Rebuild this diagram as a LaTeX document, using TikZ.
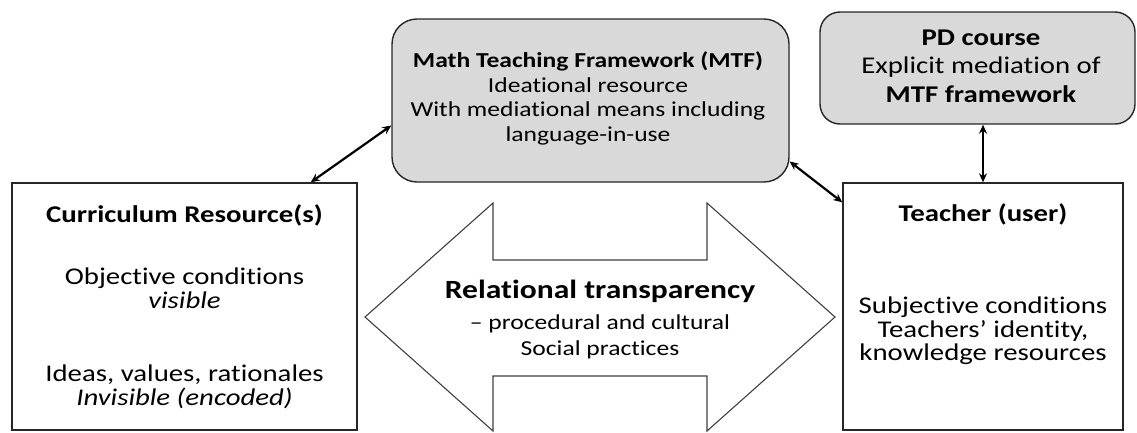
\documentclass[tikz,border=0pt]{standalone}
\usepackage{fontspec}
\setmainfont{Carlito}[FakeStretch=1.2, Ligatures={NoCommon}]
\usetikzlibrary{arrows.meta}
\begin{document}
\begin{tikzpicture}[x=1pt,y=-1pt]
\tikzset{
 plainbox/.style={draw=black!85, line width=1.4pt, fill=white, inner sep=0pt},
 greybox/.style={draw=black!85, line width=1.4pt, fill=black!15, rounded corners=#1, inner sep=0pt},
 txt/.style={anchor=base, inner sep=0pt, text=black},
 bigfont/.style={font=\fontsize{24}{28}\selectfont},
 midfont/.style={font=\fontsize{21.3}{25}\selectfont},
 link/.style={line width=2.2pt, {Stealth[length=9pt,width=8pt]}-{Stealth[length=9pt,width=8pt]}},
}
\useasboundingbox (0,0) rectangle (1137,432);

% boxes
\node[plainbox, minimum width=345pt, minimum height=247pt] (cr) at (184.5,306.5) {};
\node[plainbox, minimum width=280pt, minimum height=247pt] (tch) at (983,306.5) {};
\node[greybox=25pt, minimum width=397pt, minimum height=163pt] (mtf) at (590.5,100.5) {};
\node[greybox=20pt, minimum width=315pt, minimum height=112pt] (pd) at (977.5,68) {};

% big double arrow
\draw[draw=black!75, line width=1.1pt, fill=white]
  (365,317) -- (493,203) -- (493,260) -- (707,260) -- (707,203) -- (835,317)
  -- (707,431) -- (707,376) -- (493,376) -- (493,431) -- cycle;

% curriculum text
\node[txt, bigfont] (cr1) at (184.5,222) {\bfseries Curriculum Resource(s)};
\node[txt, bigfont] (cr2) at (184.5,284) {Objective conditions};
\node[txt, bigfont] (cr3) at (184.5,308) {\itshape visible};
\node[txt, bigfont] (cr4) at (184.5,381) {Ideas, values, rationales};
\node[txt, bigfont] (cr5) at (184.5,405) {\itshape Invisible (encoded)};

% teacher text
\node[txt, bigfont] (t1) at (983,221) {\bfseries Teacher (user)};
\node[txt, bigfont] (t2) at (983,313) {Subjective conditions};
\node[txt, bigfont] (t3) at (983,337) {Teachers’ identity,};
\node[txt, bigfont] (t4) at (983,360) {knowledge resources};

% MTF text
\node[txt, midfont] (m1) at (588,67) {\bfseries Math Teaching Framework (MTF)};
\node[txt, midfont] (m2) at (588,92) {Ideational resource};
\node[txt, midfont] (m3) at (588,116) {With mediational means including};
\node[txt, midfont] (m4) at (588,141) {language-in-use};

% PD text
\node[txt, bigfont] (p1) at (981,45) {\bfseries PD course};
\node[txt, bigfont] (p2) at (981,73) {Explicit mediation of};
\node[txt, bigfont] (p3) at (981,102) {\bfseries MTF framework};

% arrow text
\node[txt, font=\fontsize{26.3}{30}\selectfont\bfseries] (a1) at (600,298) {Relational transparency};
\node[txt, midfont] (a2) at (600,329) {– procedural and cultural};
\node[txt, midfont] (a3) at (600,355) {Social practices};

% connectors
\draw[link] ([xshift=-47pt]cr.north east) -- ([yshift=-25pt]mtf.west);
\draw[link] ([yshift=-61pt]mtf.east) -- ([yshift=-20pt]tch.north west);
\draw[link] (pd.south -| tch.north) -- (tch.north);
\end{tikzpicture}
\end{document}
